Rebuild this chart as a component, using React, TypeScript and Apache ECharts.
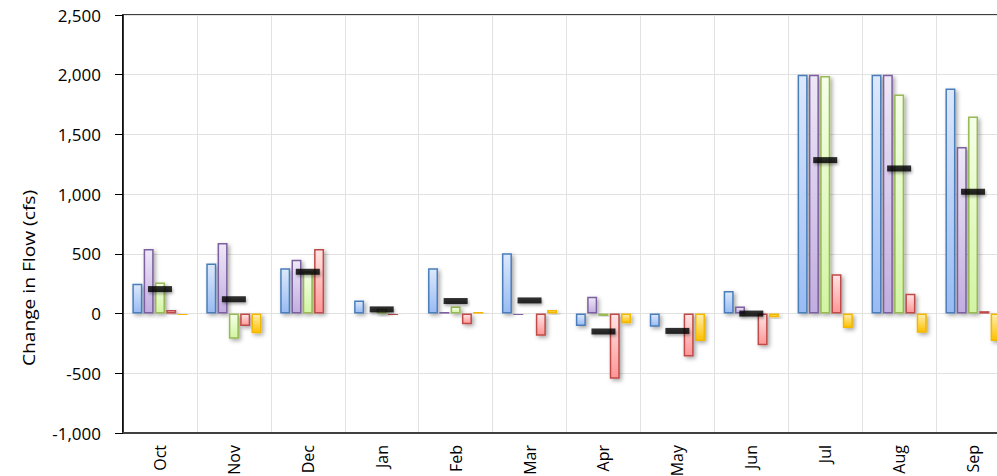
import React, { useEffect, useRef } from "react";
import * as echarts from "echarts";

const months = ["Oct", "Nov", "Dec", "Jan", "Feb", "Mar", "Apr", "May", "Jun", "Jul", "Aug", "Sep"];
const seriesBlue = [250, 420, 380, 110, 380, 505, -105, -110, 190, 2000, 2000, 1885];
const seriesPurple = [540, 590, 450, 5, 15, -15, 140, 0, 60, 2000, 2000, 1395];
const seriesGreen = [260, -210, 355, 40, 60, -10, -20, 0, 10, 1990, 1835, 1650];
const seriesRed = [30, -105, 540, -15, -90, -185, -545, -360, -265, 330, 165, 20];
const seriesYellow = [-15, -165, -10, 12, 15, 30, -80, -230, -30, -120, -160, -230];
const averageMarker = [205, 120, 350, 35, 105, 110, -150, -145, 0, 1285, 1215, 1020];
const yTicks = { min: -1000, max: 2500, interval: 500 };
const yTitle = "Change in Flow (cfs)";

const barStyles = [
  { name: "S1", data: seriesBlue, top: "#dde8fb", bottom: "#98bbf3", border: "#4a7ebb" },
  { name: "S2", data: seriesPurple, top: "#eee8f7", bottom: "#c2ade0", border: "#7d60a0" },
  { name: "S3", data: seriesGreen, top: "#f5ffe8", bottom: "#d2f4a2", border: "#98b954" },
  { name: "S4", data: seriesRed, top: "#ffe4e4", bottom: "#ff9696", border: "#be4b48" },
  { name: "S5", data: seriesYellow, top: "#ffeeb0", bottom: "#ffc000", border: "#f2b800" },
];

export default function App() {
  const ref = useRef<HTMLDivElement>(null);
  useEffect(() => {
    document.body.style.margin = "0";
    document.body.style.overflow = "hidden";
    if (!ref.current) return;
    const chart = echarts.init(ref.current, undefined, { renderer: "svg" });
    const font = '"Open Sans", "DejaVu Sans", sans-serif';
    const option: any = {
      animation: false,
      textStyle: { fontFamily: font },
      grid: {
        left: 123,
        right: -13,
        top: 15,
        bottom: 43,
        outerBoundsMode: "none",
        containLabel: false,
        show: true,
        borderColor: "#000",
        borderWidth: 1.5,
        backgroundColor: "transparent",
      },
      xAxis: {
        type: "category",
        data: months,
        axisLine: { onZero: false, lineStyle: { color: "#404040", width: 2 } },
        axisTick: { show: false },
        axisLabel: { rotate: 90, margin: 12, fontSize: 16, color: "#000", fontFamily: font },
        splitLine: { show: true, lineStyle: { color: "#e2e2e2", width: 1 } },
      },
      yAxis: {
        type: "value",
        min: yTicks.min,
        max: yTicks.max,
        interval: yTicks.interval,
        axisLine: { show: true, lineStyle: { color: "#000", width: 1.5 } },
        axisTick: { show: true, length: 8, lineStyle: { color: "#000" } },
        axisLabel: {
          fontSize: 17,
          color: "#000",
          margin: 22,
          fontFamily: font,
          formatter: (v: number) => v.toLocaleString("en-US"),
        },
        splitLine: { show: true, lineStyle: { color: "#e2e2e2", width: 1 } },
      },
      graphic: [
        {
          type: "text",
          x: 29,
          y: 278,
          rotation: Math.PI / 2,
          scaleX: 1.2,
          style: {
            text: yTitle,
            font: `16px ${font}`,
            fill: "#000",
            align: "center",
            verticalAlign: "middle",
          },
        },
      ],
      series: [
        ...barStyles.map((s) => ({
          name: s.name,
          type: "bar",
          data: s.data,
          barWidth: 10,
          barGap: "13%",
          itemStyle: {
            color: new echarts.graphic.LinearGradient(0, 0, 0, 1, [
              { offset: 0, color: s.top },
              { offset: 1, color: s.bottom },
            ]),
            borderColor: s.border,
            borderWidth: 1.5,
            shadowColor: "rgba(0,0,0,0.35)",
            shadowBlur: 4,
            shadowOffsetX: 2,
            shadowOffsetY: 2,
          },
        })),
        {
          name: "Average",
          type: "scatter",
          data: averageMarker,
          symbol: "rect",
          symbolSize: [24, 6],
          z: 10,
          itemStyle: {
            color: "#000",
            shadowColor: "rgba(0,0,0,0.4)",
            shadowBlur: 3,
            shadowOffsetX: 1,
            shadowOffsetY: 2,
          },
        },
      ],
    };
    chart.setOption(option);
    return () => chart.dispose();
  }, []);
  return <div ref={ref} style={{ width: 997, height: 476 }} />;
}
